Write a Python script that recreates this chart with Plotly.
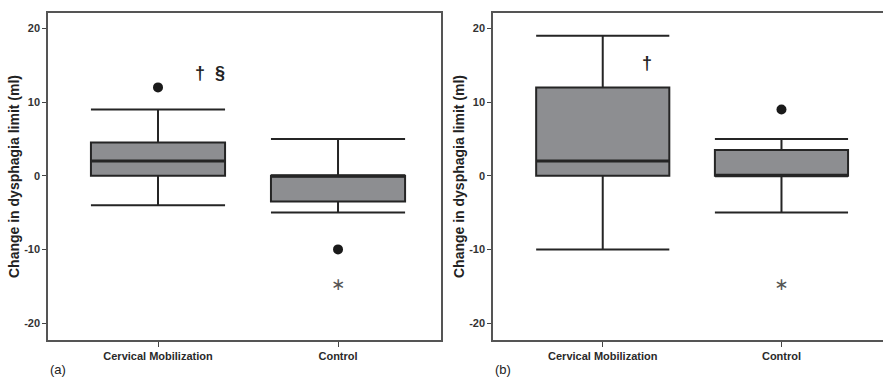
import plotly.graph_objects as go

categories = ["Cervical Mobilization", "Control"]
# panel (a)
a_lower = [-4, -5]
a_q1 = [0, -3.5]
a_median = [2, 0]
a_q3 = [4.5, 0]
a_upper = [9, 5]
a_out_dot_x = [0, 1]
a_out_dot_y = [12, -10]
a_out_star_x = [1]
a_out_star_y = [-15]
# panel (b)
b_lower = [-10, -5]
b_q1 = [0, 0]
b_median = [2, 0]
b_q3 = [12, 3.5]
b_upper = [19, 5]
b_out_dot_x = [1]
b_out_dot_y = [9]
b_out_star_x = [1]
b_out_star_y = [-15]
y_ticks = [-20, -10, 0, 10, 20]

BOX_FILL = "#8d8e91"
LINE = "#252525"
BOX_W = 0.745

fig = go.Figure()

def add_panel(fig, xa, ya, lower, q1, med, q3, upper, dx, dy, sx, sy):
    fig.add_trace(go.Box(
        x=[0, 1], q1=q1, median=med, q3=q3, lowerfence=lower, upperfence=upper,
        width=BOX_W, whiskerwidth=1, fillcolor=BOX_FILL,
        line=dict(color=LINE, width=2), boxpoints=False,
        xaxis=xa, yaxis=ya, showlegend=False, hoverinfo="skip"))
    for i in range(len(med)):
        fig.add_trace(go.Scatter(
            x=[i - BOX_W / 2, i + BOX_W / 2], y=[med[i], med[i]], mode="lines",
            line=dict(color=LINE, width=3), xaxis=xa, yaxis=ya, showlegend=False,
            hoverinfo="skip"))
    fig.add_trace(go.Scatter(
        x=dx, y=dy, mode="markers", marker=dict(color="#1a1a1a", size=10),
        xaxis=xa, yaxis=ya, showlegend=False, hoverinfo="skip"))
    fig.add_trace(go.Scatter(
        x=sx, y=sy, mode="text", text=["∗"] * len(sx), textposition="middle center",
        textfont=dict(family="DejaVu Sans", size=17, color="#555555"),
        xaxis=xa, yaxis=ya, showlegend=False, hoverinfo="skip"))

add_panel(fig, "x", "y", a_lower, a_q1, a_median, a_q3, a_upper,
          a_out_dot_x, a_out_dot_y, a_out_star_x, a_out_star_y)
add_panel(fig, "x2", "y2", b_lower, b_q1, b_median, b_q3, b_upper,
          b_out_dot_x, b_out_dot_y, b_out_star_x, b_out_star_y)

FONT = "Liberation Sans, Arial, sans-serif"
xcommon = dict(tickmode="array", tickvals=[0, 1],
               ticktext=["<b>%s</b>" % c for c in categories],
               ticks="outside", ticklen=5, tickcolor="#444", showgrid=False,
               zeroline=False, showline=True, linecolor="#555", linewidth=1.5,
               mirror=True, tickfont=dict(family=FONT, size=11, color="#2a2a2a"),
               automargin=False)
ycommon = dict(tickmode="array", tickvals=y_ticks,
               ticktext=["<b>%d</b>" % v for v in y_ticks],
               ticks="outside", ticklen=4,
               tickcolor="#444", showgrid=False, zeroline=False, showline=True,
               linecolor="#555", linewidth=1.5, mirror=True, range=[-22.3, 22.1],
               tickfont=dict(family=FONT, size=11, color="#333"), automargin=False,
               title=dict(text="<b>Change in dysphagia limit (ml)</b>", standoff=1,
                          font=dict(family=FONT, size=14, color="#222")))

fig.update_layout(
    width=883, height=378, margin=dict(l=0, r=0, t=0, b=0),
    plot_bgcolor="white", paper_bgcolor="white",
    xaxis=dict(domain=[48 / 883, 441 / 883], range=[-0.611, 1.572], **xcommon),
    xaxis2=dict(domain=[493 / 883, 1.0], range=[-0.614, 1.568], anchor="y2", **xcommon),
    yaxis=dict(domain=[1 - 340 / 378, 1 - 13 / 378], anchor="x", **ycommon),
    yaxis2=dict(domain=[1 - 340 / 378, 1 - 13 / 378], anchor="x2", **ycommon),
    annotations=[
        dict(text="<b>†</b>", x=0.233, y=14, xref="x", yref="y", showarrow=False,
             font=dict(family=FONT, size=18, color="#222")),
        dict(text="<b>§</b>", x=0.344, y=14, xref="x", yref="y", showarrow=False,
             font=dict(family=FONT, size=18, color="#222")),
        dict(text="<b>†</b>", x=0.246, y=15.3, xref="x2", yref="y2", showarrow=False,
             font=dict(family=FONT, size=18, color="#222")),
        dict(text="(a)", x=48 / 883, y=1 - 369 / 378, xref="paper", yref="paper",
             xanchor="left", yanchor="middle", showarrow=False,
             font=dict(family=FONT, size=13, color="#222")),
        dict(text="(b)", x=493 / 883, y=1 - 369 / 378, xref="paper", yref="paper",
             xanchor="left", yanchor="middle", showarrow=False,
             font=dict(family=FONT, size=13, color="#222")),
    ],
)

fig.write_html("out.html", config={"displayModeBar": False},
               post_script="document.body.style.margin='0';document.body.style.overflow='hidden';")
